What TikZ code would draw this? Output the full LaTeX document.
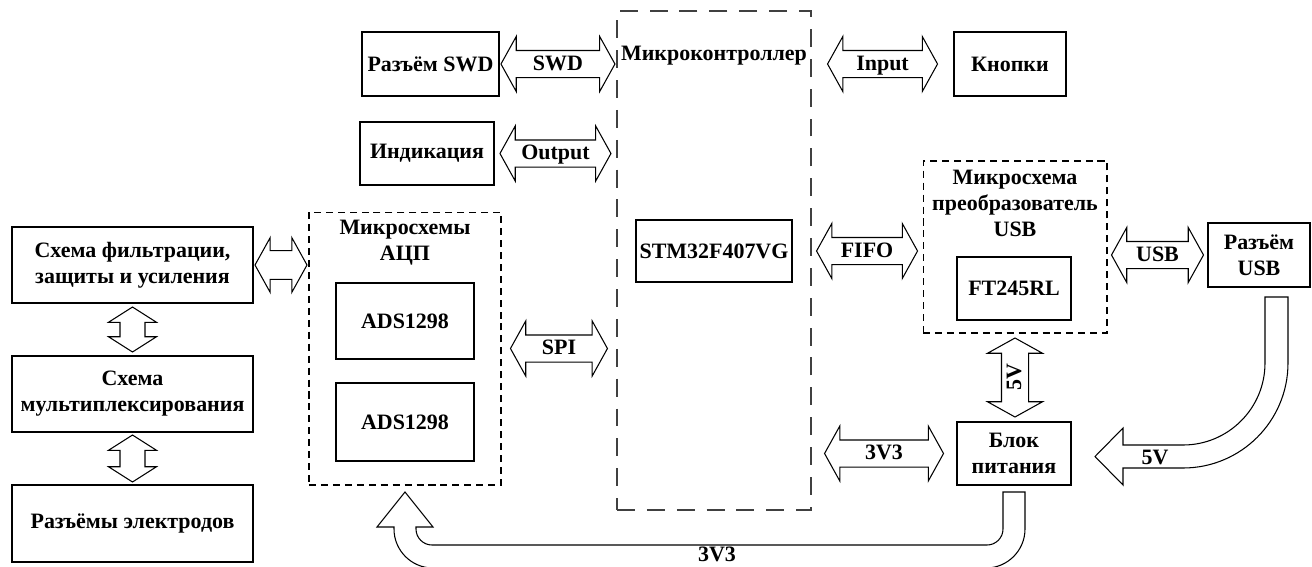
\documentclass[tikz,border=0pt]{standalone}
\usepackage{fontspec}
\setmainfont{Liberation Serif}
\usetikzlibrary{positioning,calc,shapes.arrows}

\begin{document}
\begin{tikzpicture}[
  x=0.02cm, y=-0.02cm,
  font=\fontsize{12.5}{14.8}\selectfont\bfseries,
  blk/.style={draw, line width=0.6pt, align=center, inner sep=1pt},
  grp/.style={draw, line width=0.6pt, dash pattern=on 4pt off 2.8pt},
  mcugrp/.style={draw=black!75, line width=0.7pt, dash pattern=on 10.2pt off 6.8pt},
  ttl/.style={align=center, inner sep=0pt},
  dbl/.style={double arrow, draw, line width=0.6pt, inner xsep=1pt, inner ysep=1.9pt,
    text height=9pt, text depth=2pt, double arrow head extend=0.28cm,
    double arrow tip angle=122, minimum width=0pt},
  slim/.style={inner ysep=1.3pt, double arrow head extend=0.23cm, double arrow tip angle=115},
  wide/.style={inner ysep=2.4pt, double arrow head extend=0.26cm},
  curvebus/.style={draw, line width=0.6pt, line join=miter},
]
\useasboundingbox (0,0) rectangle (1312,566);
\clip (0,0) rectangle (1312,566);

% dashed groups
\node[mcugrp, minimum width=3.88cm, minimum height=9.98cm] (mcu) at (714,260.5) {};
\node[ttl, below=0.7cm of mcu.north] (mcut) {Микроконтроллер};
\node[grp, minimum width=3.84cm, minimum height=5.46cm] (adcg) at (405,348.5) {};
\node[ttl, below=0.16cm of adcg.north] (adct) {Микросхемы\\АЦП};
\node[grp, minimum width=3.68cm, minimum height=3.44cm] (usbg) at (1015,247) {};
\node[ttl, below=0.18cm of usbg.north] (usbt) {Микросхема\\преобразователь\\USB};

% blocks
\node[blk, minimum width=2.74cm, minimum height=1.28cm] (swd)  at (430.5,64)  {Разъём SWD};
\node[blk, minimum width=2.68cm, minimum height=1.26cm] (ind)  at (427,153.5)  {Индикация};
\node[blk, minimum width=2.24cm, minimum height=1.28cm] (btn)  at (1010,64)   {Кнопки};
\node[blk, minimum width=3.12cm, minimum height=1.24cm] (stm)  at (714,251)   {STM32F407VG};
\node[blk, minimum width=2.28cm, minimum height=1.26cm] (ft)   at (1014,288.5) {FT245RL};
\node[blk, minimum width=2.04cm, minimum height=1.28cm] (usbc) at (1259,255)  {Разъём\\USB};
\node[blk, minimum width=2.28cm, minimum height=1.26cm] (pwr)  at (1014,453.5) {Блок\\питания};
\node[blk, minimum width=4.82cm, minimum height=1.52cm] (filt) at (132.5,265) {Схема фильтрации,\\защиты и усиления};
\node[blk, minimum width=4.82cm, minimum height=1.52cm] (mux)  at (132.5,394) {Схема\\мультиплексирования};
\node[blk, minimum width=4.82cm, minimum height=1.54cm] (elec) at (132.5,523.5) {Разъёмы электродов};
\node[blk, minimum width=2.76cm, minimum height=1.52cm] (ads1) at (405,321)   {ADS1298};
\node[blk, minimum width=2.76cm, minimum height=1.56cm] (ads2) at (405,422)   {ADS1298};

% bus arrows
\node[dbl, minimum height=2.28cm] (swdar)  at ($(swd.east)!0.5!(swd.east -| mcu.west)$) {SWD};
\node[dbl, minimum height=2.22cm] (outar)  at ($(ind.east)!0.5!(ind.east -| mcu.west)$) {Output};
\node[dbl, minimum height=2.2cm]  (inar)   at ($(btn.west)!0.5!(btn.west -| mcu.east)$) {Input};
\node[dbl, minimum height=2.02cm] (fifoar) at ($(stm.east -| mcu.east)!0.5!(stm.east -| usbg.west)$) {FIFO};
\node[dbl, minimum height=1.84cm] (usbar)  at ($(usbc.west)!0.5!(usbc.west -| usbg.east)$) {USB};
\node[dbl, minimum height=1.94cm] (spiar)  at ($(adcg.east)!0.5!(adcg.east -| mcu.west)$) {SPI};
\node[dbl, minimum height=2.38cm] (pwrar)  at ($(pwr.west)!0.5!(pwr.west -| mcu.east)$) {3V3};
\node[dbl, wide, minimum height=1.04cm] (filtar) at ($(filt.east)!0.5!(filt.east -| adcg.west)$) {};
\node[dbl, rotate=90, minimum height=1.58cm] (v5ar) at ($(usbg.south)!0.5!(usbg.south |- pwr.north)$) {5V};
\node[dbl, slim, rotate=90, minimum height=0.9cm]  (m1ar) at ($(filt.south)!0.5!(mux.north)$) {};
\node[dbl, slim, rotate=90, minimum height=0.94cm] (m2ar) at ($(mux.south)!0.5!(elec.north)$) {};

% 5V from USB connector
\draw[curvebus] (1265,297) -- (1265,363) .. controls (1265,408.3) and (1228.3,445) .. (1183,445)
  -- (1123,445) -- (1123,428) -- (1095,456.5) -- (1123,485) -- (1123,468) -- (1183,468)
  .. controls (1241,468) and (1288,421) .. (1288,363) -- (1288,297) -- cycle;
\node (usbv) at (1155,457) {5V};

% 3V3 to ADC
\draw[curvebus] (1025,492) -- (1025,529) .. controls (1025,550.5) and (1007.5,568) .. (986,568)
  -- (433,568) .. controls (411.5,568) and (394,550.5) .. (394,529) -- (394,527) -- (377,527)
  -- (405,492) -- (433,527) -- (416,527) -- (416,529) .. controls (416,537.8) and (423.2,545) .. (432,545)
  -- (987,545) .. controls (995.8,545) and (1003,537.8) .. (1003,529) -- (1003,492) -- cycle;
\node[inner sep=0pt] (adcv) at (717,554.5) {3V3};
\end{tikzpicture}
\end{document}
